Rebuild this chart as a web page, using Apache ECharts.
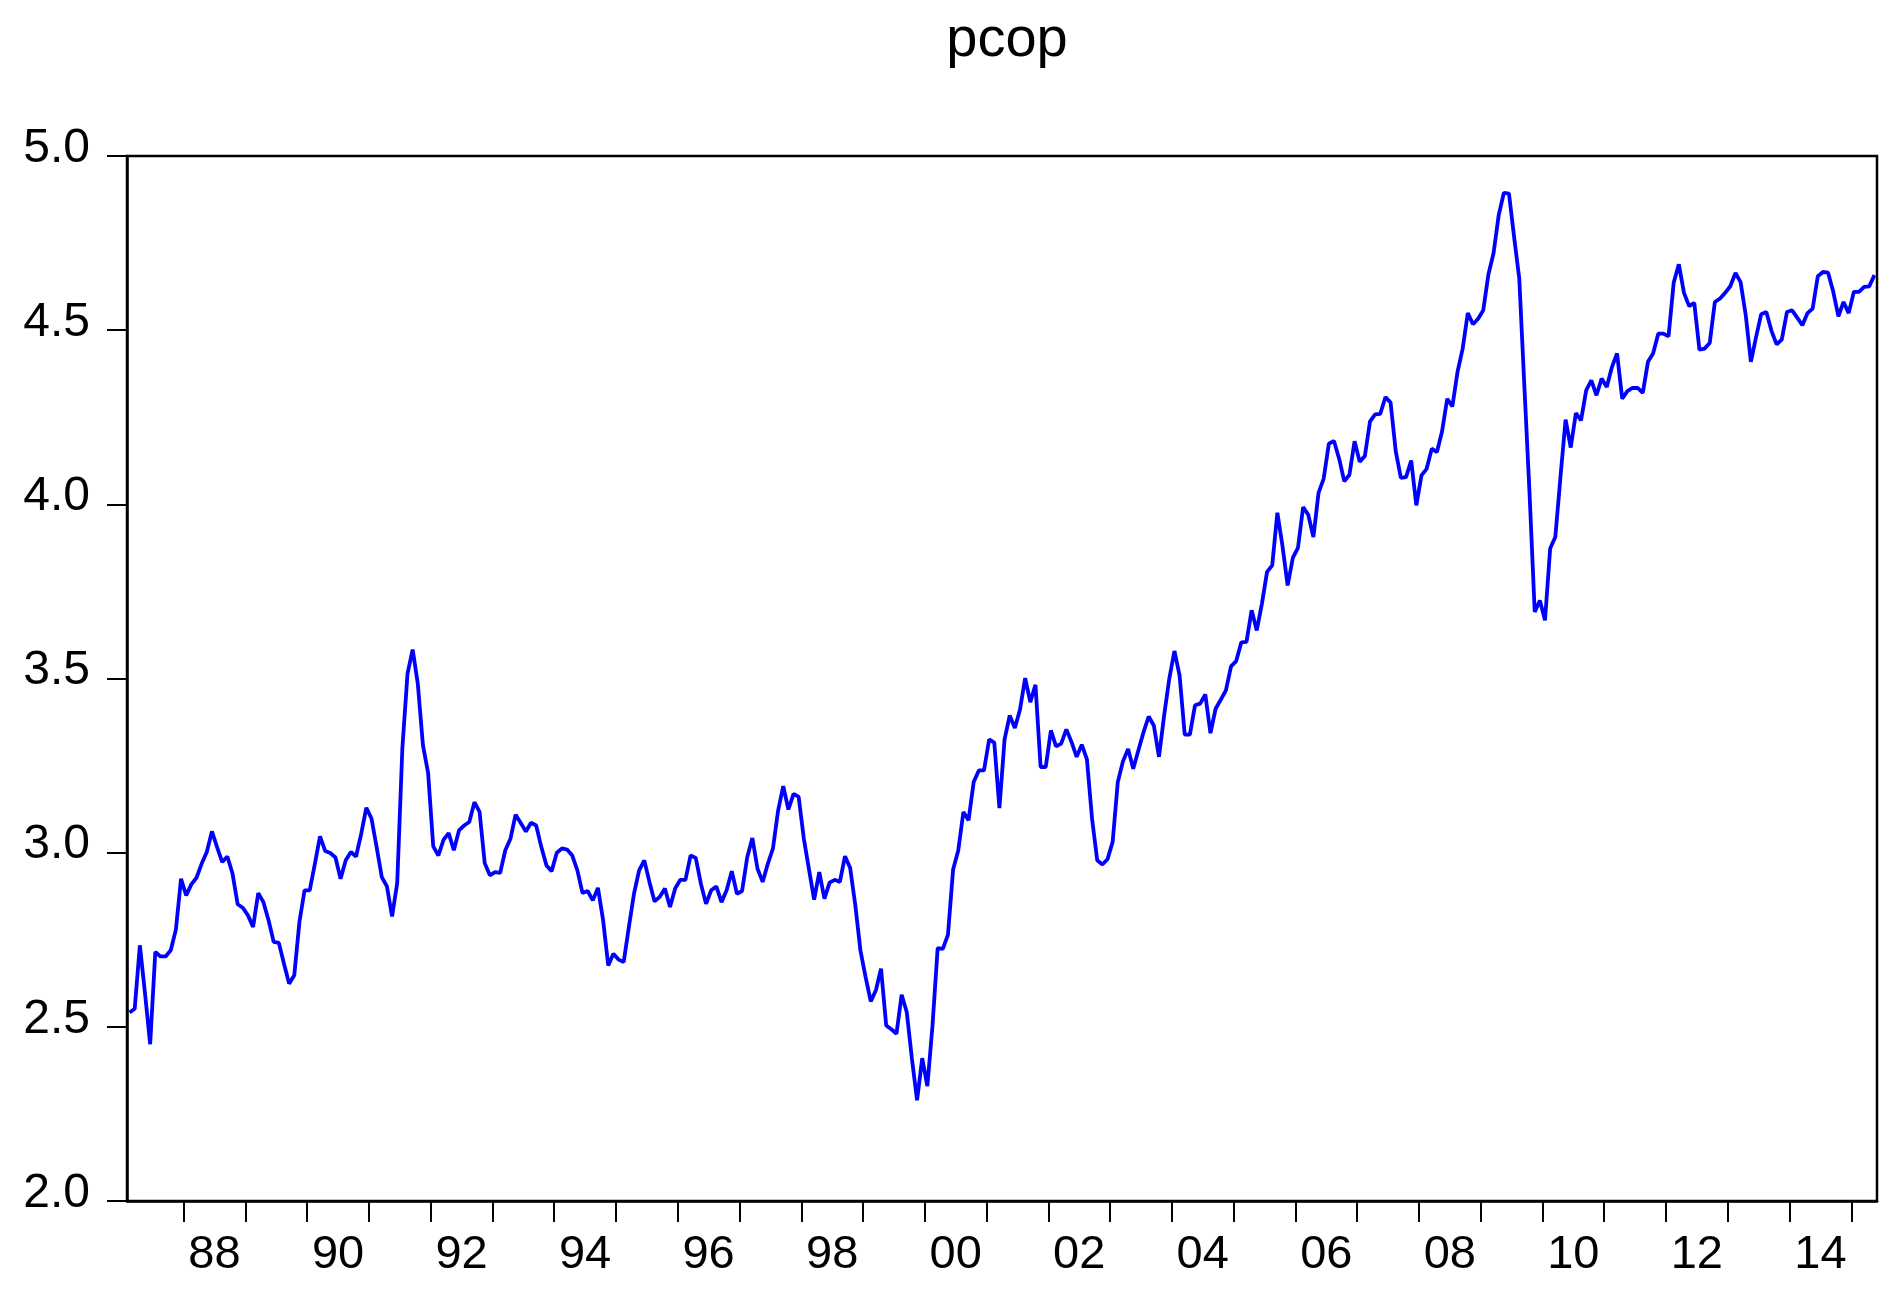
<!DOCTYPE html>
<html>
<head>
<meta charset="utf-8">
<title>pcop</title>
<script src="https://cdn.jsdelivr.net/npm/echarts@6/dist/echarts.min.js"></script>
<style>
  html, body { margin: 0; padding: 0; background: #fff; }
  #chart { width: 1899px; height: 1296px; }
</style>
</head>
<body>
<div id="chart"></div>
<script>
// monthly series, first observation Feb 1987, last May 2015
const startYear = 1987
const startMonth = 2

const pcop = [
  2.541, 2.552, 2.734, 2.596, 2.450, 2.715, 2.702, 2.702, 2.720, 2.779,
  2.925, 2.877, 2.909, 2.928, 2.968, 3.002, 3.061, 3.016, 2.973, 2.989,
  2.940, 2.852, 2.842, 2.820, 2.787, 2.884, 2.858, 2.806, 2.744, 2.741,
  2.681, 2.624, 2.648, 2.801, 2.892, 2.892, 2.968, 3.047, 3.005, 2.999,
  2.986, 2.925, 2.978, 3.002, 2.989, 3.054, 3.129, 3.098, 3.016, 2.930,
  2.903, 2.817, 2.913, 3.300, 3.514, 3.583, 3.485, 3.308, 3.229, 3.018,
  2.992, 3.037, 3.056, 3.007, 3.064, 3.078, 3.088, 3.145, 3.117, 2.970,
  2.935, 2.944, 2.942, 3.007, 3.040, 3.109, 3.085, 3.061, 3.086, 3.078,
  3.016, 2.963, 2.947, 3.000, 3.012, 3.009, 2.992, 2.949, 2.884, 2.890,
  2.863, 2.899, 2.806, 2.676, 2.710, 2.693, 2.686, 2.786, 2.882, 2.949,
  2.978, 2.916, 2.860, 2.873, 2.897, 2.844, 2.897, 2.922, 2.922, 2.992,
  2.985, 2.911, 2.853, 2.892, 2.903, 2.858, 2.892, 2.947, 2.882, 2.890,
  2.987, 3.042, 2.954, 2.916, 2.968, 3.012, 3.121, 3.191, 3.124, 3.169,
  3.160, 3.040, 2.952, 2.865, 2.944, 2.868, 2.914, 2.922, 2.916, 2.990,
  2.956, 2.849, 2.719, 2.643, 2.573, 2.605, 2.667, 2.504, 2.493, 2.480,
  2.592, 2.542, 2.408, 2.289, 2.410, 2.330, 2.504, 2.726, 2.724, 2.764,
  2.952, 3.006, 3.117, 3.093, 3.203, 3.236, 3.236, 3.325, 3.316, 3.128,
  3.325, 3.394, 3.358, 3.411, 3.501, 3.432, 3.482, 3.246, 3.246, 3.351,
  3.305, 3.313, 3.354, 3.318, 3.275, 3.310, 3.268, 3.097, 2.978, 2.966,
  2.981, 3.031, 3.203, 3.262, 3.298, 3.241, 3.294, 3.346, 3.391, 3.365,
  3.275, 3.394, 3.499, 3.579, 3.509, 3.339, 3.339, 3.423, 3.428, 3.454,
  3.343, 3.413, 3.439, 3.466, 3.535, 3.550, 3.604, 3.605, 3.696, 3.638,
  3.715, 3.806, 3.825, 3.976, 3.880, 3.767, 3.846, 3.875, 3.992, 3.970,
  3.906, 4.033, 4.074, 4.174, 4.182, 4.131, 4.066, 4.085, 4.181, 4.122,
  4.139, 4.238, 4.258, 4.260, 4.308, 4.292, 4.152, 4.076, 4.078, 4.126,
  3.997, 4.083, 4.102, 4.160, 4.150, 4.210, 4.303, 4.281, 4.380, 4.447,
  4.549, 4.517, 4.533, 4.557, 4.660, 4.721, 4.830, 4.894, 4.892, 4.767,
  4.648, 4.336, 4.030, 3.691, 3.724, 3.667, 3.873, 3.906, 4.078, 4.243,
  4.163, 4.262, 4.241, 4.327, 4.356, 4.313, 4.361, 4.337, 4.394, 4.433,
  4.303, 4.325, 4.334, 4.334, 4.320, 4.409, 4.433, 4.490, 4.490, 4.482,
  4.636, 4.689, 4.607, 4.569, 4.578, 4.444, 4.447, 4.463, 4.581, 4.591,
  4.607, 4.626, 4.664, 4.638, 4.543, 4.409, 4.480, 4.546, 4.552, 4.498,
  4.459, 4.473, 4.552, 4.557, 4.536, 4.514, 4.549, 4.562, 4.655, 4.667,
  4.665, 4.610, 4.540, 4.581, 4.549, 4.610, 4.610, 4.624, 4.626, 4.658
]

const tickYears = [1988, 1989, 1990, 1991, 1992, 1993, 1994, 1995, 1996, 1997, 1998, 1999, 2000, 2001,
  2002, 2003, 2004, 2005, 2006, 2007, 2008, 2009, 2010, 2011, 2012, 2013, 2014, 2015]
const labelYears = [1988, 1990, 1992, 1994, 1996, 1998, 2000, 2002, 2004, 2006, 2008, 2010, 2012, 2014]
const yTicks = [2.0, 2.5, 3.0, 3.5, 4.0, 4.5, 5.0]

// x is measured in months; each observation sits in the middle of its month
const monthPos = (y, m) => (y - startYear) * 12 + (m - startMonth)
const seriesData = pcop.map((v, i) => [i + 0.5, v])
const tickPos = tickYears.map(y => monthPos(y, 1))
const labelPos = labelYears.map(y => monthPos(y, 7))

const font = '"Liberation Sans", Arial, sans-serif'

const chart = echarts.init(document.getElementById('chart'))
chart.setOption({
  animation: false,
  backgroundColor: '#ffffff',
  title: {
    text: 'pcop',
    left: 1002,
    textAlign: 'center',
    top: 8,
    textStyle: {
      fontFamily: font,
      fontSize: 56,
      fontWeight: 'normal',
      color: '#000'
    }
  },
  grid: {
    left: 127,
    right: 22,
    top: 156,
    bottom: 95,
    show: true,
    borderColor: '#000',
    borderWidth: 2.5,
    backgroundColor: '#fff'
  },
  xAxis: {
    type: 'value',
    min: 0,
    max: pcop.length,
    splitLine: { show: false },
    axisLine: { show: true, lineStyle: { color: '#000', width: 2.5 } },
    axisTick: {
      show: true,
      inside: false,
      length: 21,
      customValues: tickPos,
      lineStyle: { color: '#000', width: 2 }
    },
    axisLabel: {
      customValues: labelPos,
      margin: 31,
      fontFamily: font,
      fontSize: 47,
      color: '#000',
      formatter: function (v) {
        const year = startYear + Math.floor((v + startMonth - 1) / 12)
        return String(year % 100).padStart(2, '0')
      }
    }
  },
  yAxis: {
    type: 'value',
    min: 2,
    max: 5,
    interval: 0.5,
    splitLine: { show: false },
    axisLine: { show: true, lineStyle: { color: '#000', width: 2.5 } },
    axisTick: {
      show: true,
      length: 20,
      customValues: yTicks,
      lineStyle: { color: '#000', width: 2 }
    },
    axisLabel: {
      margin: 37,
      verticalAlign: 'bottom',
      lineHeight: 15,
      fontFamily: font,
      fontSize: 48,
      color: '#000',
      formatter: v => v.toFixed(1)
    }
  },
  series: [{
    name: 'pcop',
    type: 'line',
    data: seriesData,
    showSymbol: false,
    symbol: 'none',
    lineStyle: { color: '#0000ff', width: 3.8 },
    z: 3
  }]
})
</script>
</body>
</html>
